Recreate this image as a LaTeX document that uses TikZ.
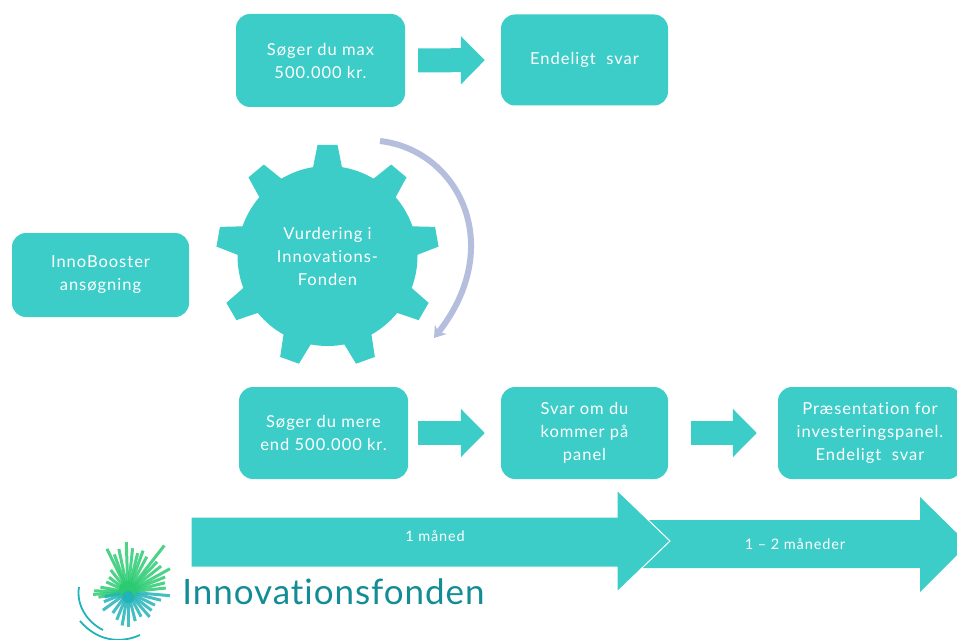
\documentclass[tikz,border=0pt]{standalone}
\usepackage{fontspec}
\setmainfont{Lato}[LetterSpace=6,RawFeature={-liga}]
\usetikzlibrary{arrows.meta}
\definecolor{teal1}{HTML}{3CCDC9}
\definecolor{bend1}{HTML}{B5BFDD}
\definecolor{logo1}{HTML}{128C95}
\definecolor{logo2}{HTML}{2CCB72}
\definecolor{logo3}{HTML}{22B3B8}
\tikzset{
  boks/.style={fill=teal1, rounded corners=14pt, text=white, align=center, inner sep=0pt,
    font=\fontsize{16.5}{23}\selectfont},
  pil/.style={draw=teal1, line width=24pt, -{Triangle[length=24pt,width=47pt]}},
  tid/.style={fill=teal1, draw=white, line width=1pt},
  tidtekst/.style={text=white, font=\fontsize{14.5}{16}\selectfont},
  straale/.style={line width=3pt, opacity=.85}
}
\begin{document}
\begin{tikzpicture}[x=1pt,y=-1pt]
    \clip (0,0) rectangle (957,639);

    % top row
    \node (max) [boks, minimum width=169pt, minimum height=93pt] at (320.5,60.5) {Søger du max\\500.000 kr.};
    \node (svar) [boks, minimum width=167pt, minimum height=91pt] at (584.5,60) {Endeligt\ \ svar};
    \draw [pil, shorten <=13pt, shorten >=16pt] (max) -- (svar);

    % gear
    \node (booster) [boks, minimum width=177pt, minimum height=84pt] at (100.5,275) {InnoBooster\\ansøgning};
    \node (gear) [boks, circle, minimum size=180pt] at (327.5,256) {Vurdering i\\Innovations-\\Fonden};
    \foreach \a in {90,50,10,-30,-70,-110,-150,170,130}
      \fill [teal1, shift={(gear.center)}, rotate=\a] (86,-15) -- (111,-10) -- (111,10) -- (86,15) -- cycle;
    \coordinate (bendA) at (380,141);
    \coordinate (bendB) at (434,338);
    \draw [bend1, line width=6pt, -{Stealth[length=11pt,width=15pt]}]
      (bendA) .. controls (458,150) and (507,245) .. (bendB);

    % bottom row
    \node (mere) [boks, minimum width=169pt, minimum height=92pt] at (323.5,433) {Søger du mere\\end 500.000 kr.};
    \node (panel) [boks, minimum width=167pt, minimum height=92pt] at (584.5,433) {Svar om du\\kommer på\\panel};
    \node (praes) [boks, minimum width=184pt, minimum height=92pt] at (870,433) {Præsentation for\\investeringspanel.\\Endeligt\ \ svar};
    \draw [pil, shorten <=10pt, shorten >=16pt] (mere) -- (panel);
    \draw [pil, shorten <=23pt, shorten >=21pt] (panel) -- (praes);

    % time arrows
    \fill [teal1] (640,520) -- (920,520) -- (920,497) -- (968,544) -- (920,592) -- (920,568) -- (640,568) -- cycle;
    \draw [tid] (191,517) -- (617,517) -- (617,490) -- (670,541) -- (617,592) -- (617,567) -- (191,567) -- cycle;
    \node (en) [tidtekst] at (435,536) {1 måned};
    \node (to) [tidtekst] at (795,544) {1 -- 2 måneder};

    % logo
    \foreach \a/\r in {-128/28,-116/48,-110/40,-102/44,-92/50,-84/44,-76/40,-70/44,-62/40,-52/59,-46/42,-38/42,-29/48,-22/40,-14/38,-6/38,
                       176/35,170/30,182/34,-170/28,-155/24,-142/24}
      \draw [logo2, straale] (128,592) -- +(\a:\r);
    \foreach \a/\r in {5/42,14/34,26/30,38/30,49/33,62/28,76/30,90/35,100/34,112/30,126/26,144/31,158/26,168/24}
      \draw [logo3, straale] (128,592) -- +(\a:\r);
    \fill [logo2] (128,590) circle [radius=9pt];
    \fill [logo3] (128,597) circle [radius=6pt];
    \coordinate (arcA) at (79,587);
    \coordinate (arcB) at (103,630);
    \coordinate (arcC) at (80,621);
    \coordinate (arcD) at (140,635);
    \draw [logo3, line width=1.8pt] (arcA) .. controls (76,605) and (87,622) .. (arcB);
    \draw [logo3, line width=1.8pt] (arcC) .. controls (97,641) and (120,644) .. (arcD);
    \node (fonden) [text=logo1, font=\fontsize{35}{38}\selectfont\addfontfeature{LetterSpace=2.7}] at (333.5,592) {Innovationsfonden};
\end{tikzpicture}
\end{document}
